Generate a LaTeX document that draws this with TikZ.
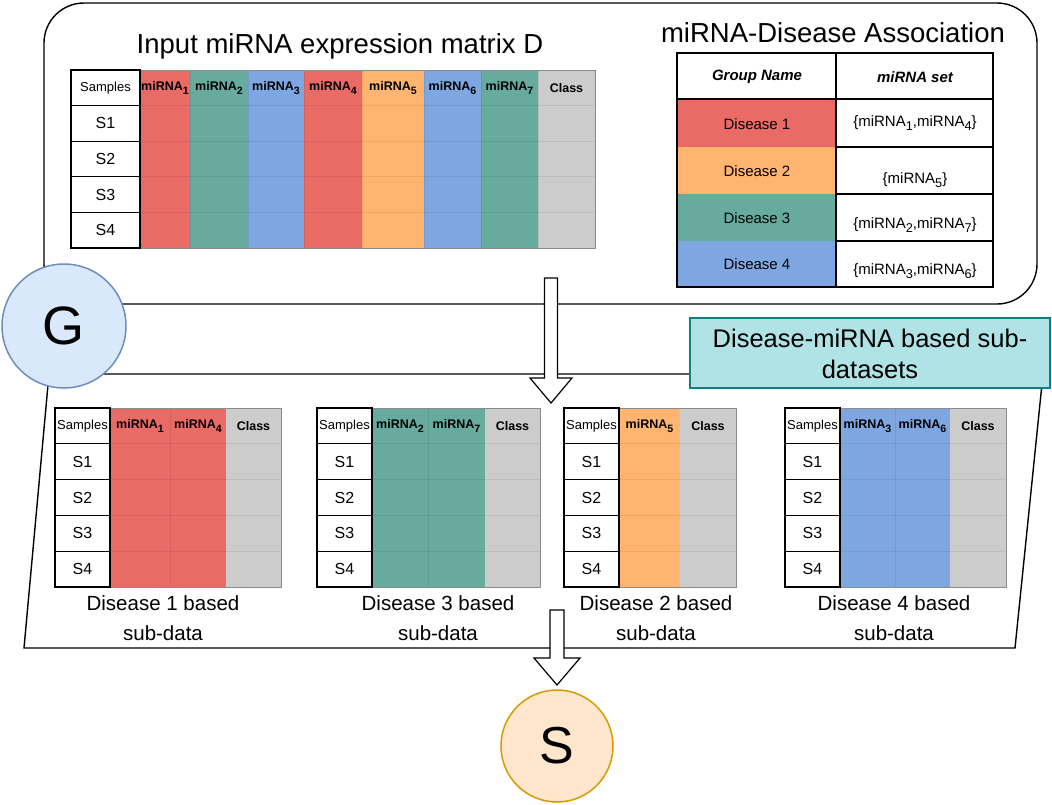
\documentclass[tikz,border=0pt]{standalone}
\usepackage{fontspec}
\setmainfont{Liberation Sans}
\usetikzlibrary{shapes.geometric}
\definecolor{cred}{HTML}{EA6B66}
\definecolor{cgreen}{HTML}{67AB9F}
\definecolor{cblue}{HTML}{7EA6E0}
\definecolor{corange}{HTML}{FFB570}
\definecolor{cgray}{HTML}{CCCCCC}
\definecolor{gfill}{HTML}{DAE8FC}
\definecolor{gdraw}{HTML}{6C8EBF}
\definecolor{sfill}{HTML}{FFE6CC}
\definecolor{sdraw}{HTML}{D79B00}
\definecolor{tfill}{HTML}{B0E3E6}
\definecolor{tdraw}{HTML}{0E8088}
\newcommand\lo[1]{\raisebox{-0.5ex}{\scalebox{0.85}{#1}}}
\newcommand\fs[1]{\fontsize{#1}{#1}\selectfont}
% sample column: prefix, x left, x right, y top, row height
\newcommand\samplecells[5]{%
  \pgfmathsetmacro\sw{#3-#2}%
  \node[samp, minimum width=\sw pt, minimum height=#5pt, font=\fs{13}] (#1s0) at ({(#2+#3)/2},{#4+#5/2}) {Samples};
  \foreach \k in {1,...,4}{
    \node[samp, minimum width=\sw pt, minimum height=#5pt, font=\fs{16}] (#1s\k) at ({(#2+#3)/2},{#4+#5/2+#5*\k}) {S\k};
  }%
}
% data column: name, x1, x2, ytop, ybot, colour, header
\newcommand\datacol[7]{%
  \fill[#6] (#2,#4) rectangle (#3,#5);
  \node[hdr] (#1) at ({(#2+#3)/2},{#4+18}) {#7};
}
% faint horizontal grid: x1, x2, ytop, row height
\newcommand\gridrows[4]{%
  \foreach \k in {1,...,4}{\draw[gridl] (#1,{#3+#4*\k}) -- (#2,{#3+#4*\k});}%
}
\begin{document}
\begin{tikzpicture}[x=1pt,y=-1pt,
  samp/.style={draw=black, line width=1.3pt, fill=white, inner sep=0pt},
  hdr/.style={font=\fs{12.5}\bfseries, inner sep=0pt},
  gridl/.style={draw=black, opacity=0.07, line width=1pt},
  outerb/.style={draw=black!45, line width=1pt},
  frame/.style={draw=black, line width=1.4pt},
  blockarrow/.style={draw=black, fill=white, line width=1.2pt, line join=miter},
  caption/.style={font=\fs{20.5}, anchor=base, inner sep=0pt},
  asstext/.style={font=\fs{15}, inner sep=0pt},
  thick2/.style={draw=black, line width=2.4pt}]
\useasboundingbox (0,0) rectangle (1052,804);

% ---------- top rounded box ----------
\node[frame, rounded corners=40pt, minimum width=993pt, minimum height=301pt, inner sep=0pt] (topbox) at (540.5,153.5) {};
\node[font=\fs{27.5}, anchor=base, inner sep=0pt] (title1) at (340,53) {Input miRNA expression matrix D};
\node[font=\fs{27.5}, anchor=base, inner sep=0pt] (title2) at (833,42) {miRNA-Disease Association};

% ---------- input matrix ----------
\datacol{mh1}{140}{190}{70}{248}{cred}{miRNA\lo{1}}
\datacol{mh2}{190}{248}{70}{248}{cgreen}{miRNA\lo{2}}
\datacol{mh3}{248}{304}{70}{248}{cblue}{miRNA\lo{3}}
\datacol{mh4}{304}{362}{70}{248}{cred}{miRNA\lo{4}}
\datacol{mh5}{362}{424}{70}{248}{corange}{miRNA\lo{5}}
\datacol{mh6}{424}{481}{70}{248}{cblue}{miRNA\lo{6}}
\datacol{mh7}{481}{538}{70}{248}{cgreen}{miRNA\lo{7}}
\datacol{mhc}{538}{595}{70}{248}{cgray}{Class}
\gridrows{140}{595}{70}{35.6}
\foreach \x in {190,248,304,362,424,481,538}{\draw[gridl] (\x,70) -- (\x,248);}
\draw[outerb] (71,70) rectangle (595,248);
\samplecells{m}{71}{140}{70}{35.6}

% ---------- association table ----------
\fill[white] (677,53) rectangle (993,99);
\node[fill=cred, minimum width=159pt, minimum height=48pt, inner sep=0pt] (d1) at (756.5,123) {};
\node[fill=corange, minimum width=159pt, minimum height=47pt, inner sep=0pt] (d2) at (756.5,170.5) {};
\node[fill=cgreen, minimum width=159pt, minimum height=47pt, inner sep=0pt] (d3) at (756.5,217.5) {};
\node[fill=cblue, minimum width=159pt, minimum height=46pt, inner sep=0pt] (d4) at (756.5,264) {};
\draw[thick2] (677,53) rectangle (993,287);
\draw[thick2] (836,53) -- (836,287);
\draw[thick2] (677,99) -- (993,99);
\foreach \y in {147,194,241}{\draw[thick2] (836,\y) -- (993,\y);}
\node[font=\fs{15}\bfseries\itshape, inner sep=0pt] (gh) at (757,77) {Group Name};
\node[font=\fs{15}\bfseries\itshape, inner sep=0pt] (sh) at (915,77) {miRNA set};
\node[asstext] (d1t) at (757,124) {Disease 1};
\node[asstext] (d2t) at (757,171) {Disease 2};
\node[asstext] (d3t) at (757,218) {Disease 3};
\node[asstext] (d4t) at (757,264) {Disease 4};
\node[asstext] (s1t) at (915,123) {\{miRNA\lo{1},miRNA\lo{4}\}};
\node[asstext] (s2t) at (915,180) {\{miRNA\lo{5}\}};
\node[asstext] (s3t) at (915,225) {\{miRNA\lo{2},miRNA\lo{7}\}};
\node[asstext] (s4t) at (915,271) {\{miRNA\lo{3},miRNA\lo{6}\}};

% ---------- lower trapezoid ----------
\draw[frame] (49,374) coordinate (tl) -- (1043,374) coordinate (tr) -- (1015,648) coordinate (br) -- (24,648) coordinate (bl) -- cycle;

% ---------- sub tables ----------
% table 1
\datacol{a1}{110}{170}{408}{587}{cred}{miRNA\lo{1}}
\datacol{a2}{170}{226}{408}{587}{cred}{miRNA\lo{4}}
\datacol{ac}{226}{281}{408}{587}{cgray}{Class}
\gridrows{110}{281}{408}{35.8}
\draw[gridl] (170,408) -- (170,587);
\draw[outerb] (55,408) rectangle (281,587);
\samplecells{a}{55}{110}{408}{35.8}
% table 2
\datacol{b1}{372}{428}{408}{587}{cgreen}{miRNA\lo{2}}
\datacol{b2}{428}{485}{408}{587}{cgreen}{miRNA\lo{7}}
\datacol{bc}{485}{540}{408}{587}{cgray}{Class}
\gridrows{372}{540}{408}{35.8}
\draw[gridl] (428,408) -- (428,587);
\draw[outerb] (317,408) rectangle (540,587);
\samplecells{b}{317}{372}{408}{35.8}
% table 3
\datacol{c1}{619}{680}{408}{587}{corange}{miRNA\lo{5}}
\datacol{cc}{680}{736}{408}{587}{cgray}{Class}
\gridrows{619}{736}{408}{35.8}
\draw[outerb] (564,408) rectangle (736,587);
\samplecells{c}{564}{619}{408}{35.8}
% table 4
\datacol{e1}{840}{895}{408}{587}{cblue}{miRNA\lo{3}}
\datacol{e2}{895}{950}{408}{587}{cblue}{miRNA\lo{6}}
\datacol{ec}{950}{1006}{408}{587}{cgray}{Class}
\gridrows{840}{1006}{408}{35.8}
\draw[gridl] (895,408) -- (895,587);
\draw[outerb] (785,408) rectangle (1006,587);
\samplecells{e}{785}{840}{408}{35.8}

% captions
\node[caption] (ca1) at (163,610) {Disease 1 based};
\node[caption] (ca2) at (163,640) {sub-data};
\node[caption] (cb1) at (438,610) {Disease 3 based};
\node[caption] (cb2) at (438,640) {sub-data};
\node[caption] (cc1) at (656,610) {Disease 2 based};
\node[caption] (cc2) at (656,640) {sub-data};
\node[caption] (ce1) at (894,610) {Disease 4 based};
\node[caption] (ce2) at (894,640) {sub-data};

% ---------- G, teal label, S ----------
\node[circle, draw=gdraw, fill=gfill, line width=1.5pt, minimum size=124pt, inner sep=0pt, font=\fs{54}] (G) at (64,326) {G};
\node[draw=tdraw, fill=tfill, line width=1.6pt, minimum width=360pt, minimum height=70pt, inner sep=0pt] (T) at (870,353) {};
\node[font=\fs{25.5}, anchor=base, inner sep=0pt] (T1) at (870,347) {Disease-miRNA based sub-};
\node[font=\fs{25.5}, anchor=base, inner sep=0pt] (T2) at (870,378) {datasets};
\node[circle, draw=sdraw, fill=sfill, line width=1.5pt, minimum size=112pt, inner sep=0pt, font=\fs{52}] (S) at (557,746) {S};

% ---------- block arrows ----------
\draw[blockarrow] (544.5,278) -- (557.5,278) -- (557.5,378) -- (572,378) -- (551,403) coordinate (a1tip) -- (530,378) -- (544.5,378) -- cycle;
\draw[blockarrow] (550,610) -- (564,610) -- (564,658) -- (580,658) -- (557,685) coordinate (a2tip) -- (534,658) -- (550,658) -- cycle;
\end{tikzpicture}
\end{document}
